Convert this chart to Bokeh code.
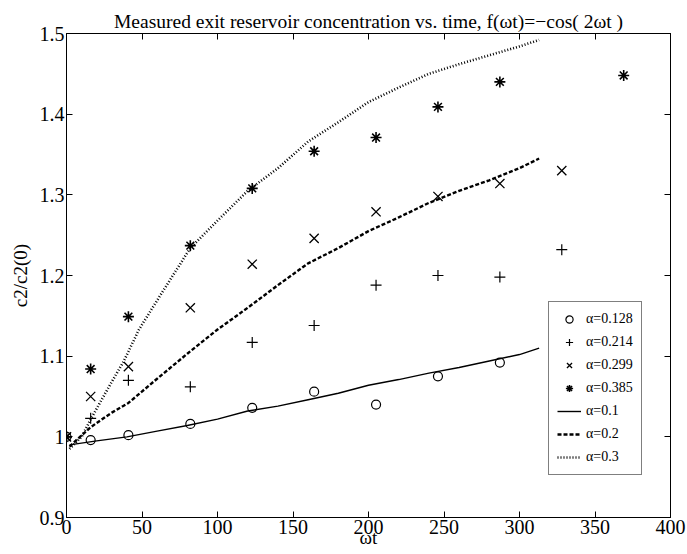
from bokeh.plotting import figure
from bokeh.models import (Range1d, LinearAxis, FixedTicker, CustomJSTickFormatter,
                          Legend, LegendItem)
from bokeh.embed import file_html
from bokeh.resources import INLINE

# ---------------- data ----------------
circ_x = [0, 16, 41, 82, 123, 164, 205, 246, 287]
circ_y = [1.000, 0.996, 1.002, 1.016, 1.036, 1.056, 1.040, 1.075, 1.092]

plus_x = [0, 16, 41, 82, 123, 164, 205, 246, 287, 328]
plus_y = [1.000, 1.023, 1.070, 1.062, 1.117, 1.138, 1.188, 1.200, 1.198, 1.232]

xm_x = [0, 16, 41, 82, 123, 164, 205, 246, 287, 328]
xm_y = [1.000, 1.050, 1.087, 1.160, 1.214, 1.246, 1.279, 1.298, 1.314, 1.330]

star_x = [0, 16, 41, 82, 123, 164, 205, 246, 287, 369]
star_y = [1.000, 1.084, 1.149, 1.237, 1.308, 1.354, 1.371, 1.409, 1.440, 1.448]

sol_x = [2, 20, 40, 60, 80, 100, 120, 140, 160, 180, 200, 220, 240, 260, 280, 300, 313]
sol_y = [0.990, 0.995, 1.000, 1.007, 1.014, 1.022, 1.032, 1.038, 1.046, 1.054,
         1.064, 1.071, 1.079, 1.086, 1.094, 1.102, 1.110]

dash_x = [2, 16, 30, 41, 60, 80, 100, 120, 140, 160, 180, 200, 220, 240, 260, 280, 300, 313]
dash_y = [0.988, 1.012, 1.030, 1.042, 1.072, 1.103, 1.133, 1.160, 1.188, 1.215, 1.234,
          1.255, 1.272, 1.290, 1.305, 1.318, 1.333, 1.345]

dot_x = [2, 10, 17, 29, 38, 48, 64, 82, 100, 120, 140, 160, 180, 200, 220, 240, 260, 280, 300, 313]
dot_y = [0.985, 1.000, 1.025, 1.065, 1.094, 1.133, 1.181, 1.234, 1.268, 1.305, 1.333,
         1.366, 1.390, 1.415, 1.433, 1.450, 1.462, 1.473, 1.484, 1.492]

x_ticks = [0, 50, 100, 150, 200, 250, 300, 350, 400]
y_ticks = [0.9, 1.0, 1.1, 1.2, 1.3, 1.4, 1.5]

title_text = "Measured exit reservoir concentration vs. time, f(\u03c9t)=\u2212cos( 2\u03c9t )"
x_label = "\u03c9t"
y_label = "c2/c2(0)"
legend_labels = ["\u03b1=0.128", "\u03b1=0.214", "\u03b1=0.299", "\u03b1=0.385",
                 "\u03b1=0.1", "\u03b1=0.2", "\u03b1=0.3"]

FONT = "Liberation Serif"

p = figure(width=687, height=554, output_backend="svg", toolbar_location=None,
           x_range=Range1d(0, 400), y_range=Range1d(0.9, 1.5),
           min_border_left=66, min_border_right=17, min_border_top=33, min_border_bottom=37)
p.background_fill_color = "white"
p.border_fill_color = "white"
p.outline_line_color = "black"
p.outline_line_width = 1
p.grid.visible = False

p.title.text = title_text
p.title.text_font = FONT
p.title.text_font_size = "19.5px"
p.title.text_font_style = "normal"
p.title.text_color = "black"
p.title.align = "center"
p.title.offset = 0
p.title.standoff = 4

fmt = CustomJSTickFormatter(code="return (Math.abs(tick - Math.round(tick)) < 1e-9) ? tick.toFixed(0) : tick.toFixed(1);")
blank = CustomJSTickFormatter(code="return '';")

for ax in p.xaxis:
    ax.ticker = FixedTicker(ticks=x_ticks)
    ax.axis_label = x_label
    ax.axis_label_standoff = -10
for ax in p.yaxis:
    ax.ticker = FixedTicker(ticks=y_ticks)
    ax.formatter = fmt
    ax.axis_label = y_label
    ax.axis_label_standoff = 6

for ax in list(p.xaxis) + list(p.yaxis):
    ax.major_tick_in = 6
    ax.major_tick_out = 0
    ax.minor_tick_line_color = None
    ax.major_label_text_font = FONT
    ax.major_label_text_font_size = "20px"
    ax.major_label_standoff = 2
    ax.axis_line_color = "black"
    ax.major_tick_line_color = "black"
    ax.major_label_text_color = "black"
    ax.axis_label_text_font = FONT
    ax.axis_label_text_font_size = "19px"
    ax.axis_label_text_font_style = "normal"
    ax.axis_label_text_color = "black"

# mirrored top / right axes with ticks only
top = LinearAxis(ticker=FixedTicker(ticks=x_ticks), formatter=blank,
                 major_tick_in=6, major_tick_out=0,
                 minor_tick_line_color=None, major_label_standoff=0,
                 major_label_text_font_size="1px", axis_line_color="black")
right = LinearAxis(ticker=FixedTicker(ticks=y_ticks), formatter=blank,
                   major_tick_in=6, major_tick_out=0,
                   minor_tick_line_color=None, major_label_standoff=0,
                   major_label_text_font_size="1px", axis_line_color="black")
p.add_layout(top, "above")
p.add_layout(right, "right")

# model curves
r_sol = p.line(sol_x, sol_y, line_color="black", line_width=1.4)
r_dash = p.line(dash_x, dash_y, line_color="black", line_width=2.4, line_dash="4 2")
r_dot = p.line(dot_x, dot_y, line_color="black", line_width=2.6, line_dash="1 2")

# measurements
r_c = p.scatter(circ_x, circ_y, marker="circle", size=9, fill_color=None,
                line_color="black", line_width=1.2)
r_p = p.scatter(plus_x, plus_y, marker="cross", size=11, line_color="black", line_width=1.2)
r_x = p.scatter(xm_x, xm_y, marker="x", size=13, line_color="black", line_width=1.3)
r_s = p.scatter(star_x, star_y, marker="asterisk", size=11, line_color="black", line_width=1.6)

items = [LegendItem(label=legend_labels[i], renderers=[r])
         for i, r in enumerate([r_c, r_p, r_x, r_s, r_sol, r_dash, r_dot])]
legend = Legend(items=items, location=(482, 42))
legend.label_text_font = FONT
legend.label_text_font_size = "14px"
legend.label_text_color = "black"
legend.label_height = 18
legend.glyph_height = 18
legend.glyph_width = 24
legend.label_standoff = 5
legend.spacing = 5
legend.padding = 8
legend.margin = 0
legend.border_line_color = "black"
legend.border_line_width = 1
legend.background_fill_color = "white"
legend.background_fill_alpha = 1
p.add_layout(legend)

open("out.html", "w").write(file_html(p, INLINE))
